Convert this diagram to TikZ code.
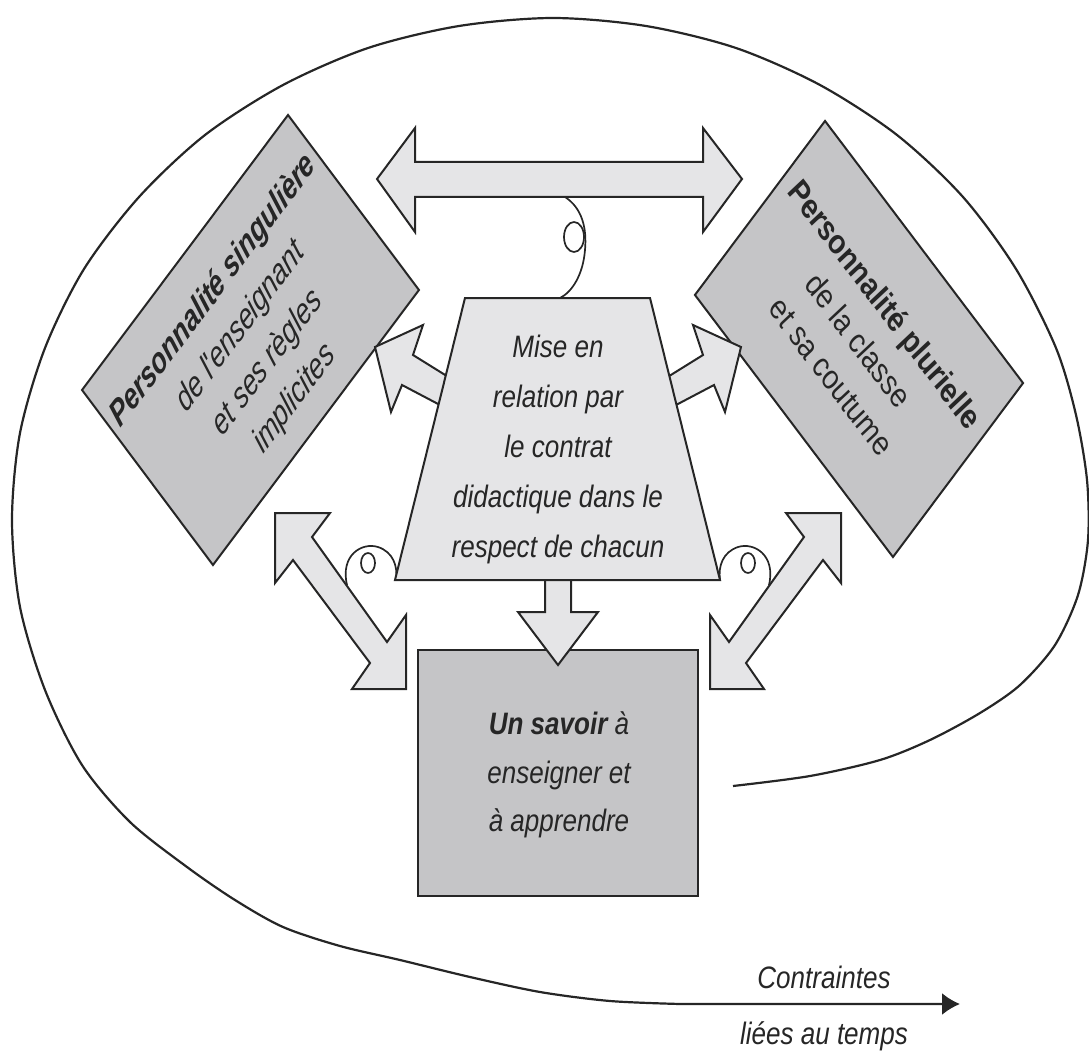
\documentclass[tikz,border=0pt]{standalone}
\usepackage{fontspec}
\setmainfont{Liberation Sans}
\newfontfamily\condfont[FakeStretch=0.84]{Liberation Sans}
\newfontfamily\boxfont[FakeStretch=0.9]{Liberation Sans}
\usetikzlibrary{arrows.meta}
\definecolor{ink}{RGB}{38,38,38}
\definecolor{boxgray}{RGB}{197,197,199}
\definecolor{pale}{RGB}{229,229,231}

\begin{document}
\begin{tikzpicture}[x=1pt,y=1pt,
  outline/.style={draw=ink, line width=2pt, line join=miter},
  darkbox/.style={outline, fill=boxgray},
  palebox/.style={outline, fill=pale},
  curl/.style={draw=ink, line width=1.7pt},
  midtext/.style={font=\condfont\itshape\fontsize{31}{50}\selectfont, text=ink, align=center, inner sep=0pt},
  sheartext/.style={font=\boxfont\itshape\fontsize{33}{45}\selectfont, text=ink, inner sep=0pt,
    text height=23.6pt, text depth=0pt, transform shape},
]
\useasboundingbox (0,0) rectangle (1089,-1059);

% the time spiral that ends in the arrow
\coordinate (spiralstart) at (733,-786);
\coordinate (timeend) at (960,-1004);
\draw[ink, line width=2.2pt, -{Latex[length=18pt,width=22pt]}]
  plot[smooth] coordinates {(spiralstart) (810,-776) (880,-760) (930,-740) (980,-713)
    (1020,-685) (1055,-645) (1078,-595) (1088,-540) (1087,-480) (1076,-415) (1056,-348)
    (1016,-269) (963,-197) (897,-135) (820,-85) (736,-48) (646,-26) (553,-18) (459,-26)
    (368,-48) (283,-85) (205,-135) (139,-197) (84,-269) (45,-348) (20,-433) (12,-520)
    (20,-607) (45,-690) (82,-765) (130,-822) (187,-867) (235,-900) (283,-927) (340,-946)
    (400,-960) (470,-977) (540,-992) (610,-1001) (680,-1004)}
  -- (timeend);

% teacher: sheared box
\begin{scope}[cm={0.5995,0.8003,-0.599,0.8005,(250.5,-340)}]
  \node[darkbox, transform shape, inner sep=0pt, minimum width=343.6pt, minimum height=218.6pt] (teacher) at (0,0) {};
  \node[sheartext] (teacherA) at (0,64.5) {\bfseries Personnalité singulière};
  \node[sheartext] (teacherB) at (0,19.5) {de l'enseignant};
  \node[sheartext] (teacherC) at (0,-25.5) {et ses règles};
  \node[sheartext] (teacherD) at (0,-70.5) {implicites};
\end{scope}

% class: sheared box
\begin{scope}[cm={0.603,-0.798,0.599,0.801,(859,-339)}]
  \node[darkbox, transform shape, inner sep=0pt, minimum width=328.4pt, minimum height=217.2pt] (class) at (0,0) {};
  \node[sheartext] (classA) at (0,44) {\bfseries Personnalité plurielle};
  \node[sheartext] (classB) at (0,-1) {de la classe};
  \node[sheartext] (classC) at (0,-46) {et sa coutume};
\end{scope}

% double arrow between teacher and class
\draw[palebox] (377,-179) -- (415,-128) -- (415,-162) -- (703,-162) -- (703,-128) -- (742,-179)
  -- (703,-232) -- (703,-197) -- (415,-197) -- (415,-232) -- cycle;
\coordinate (topcurlA) at (565,-197);
\coordinate (topcurlB) at (560,-298);
\draw[curl] (topcurlA) .. controls (582,-208) and (587,-228) .. (585,-250)
  .. controls (583,-275) and (572,-292) .. (topcurlB);
\draw[curl] (574,-237) ellipse [x radius=10, y radius=15];

% arrows from the contract towards both personalities
\draw[palebox] (375,-347) -- (423,-325) -- (413,-355) -- (487,-401) -- (478,-425) -- (402,-385) -- (391,-412) -- cycle;
\draw[palebox] (741,-347) -- (693,-325) -- (703,-355) -- (629,-401) -- (638,-425) -- (714,-385) -- (725,-412) -- cycle;

% double arrows towards the knowledge
\draw[palebox] (275,-513) -- (330,-513) -- (312,-537) -- (387,-642) -- (406,-615) -- (406,-689)
  -- (352,-689) -- (370,-663) -- (293,-560) -- (275,-583) -- cycle;
\draw[palebox] (841,-513) -- (786,-513) -- (804,-537) -- (729,-642) -- (710,-615) -- (710,-689)
  -- (764,-689) -- (746,-663) -- (823,-560) -- (841,-583) -- cycle;

% small curls
\coordinate (lcurlA) at (347,-585);
\coordinate (lcurlB) at (396,-580);
\draw[curl] (lcurlA) .. controls (340,-555) and (362,-542) .. (378,-547)
  .. controls (393,-552) and (398,-566) .. (lcurlB);
\draw[curl] (368,-563) ellipse [x radius=7, y radius=10];
\coordinate (rcurlA) at (769,-585);
\coordinate (rcurlB) at (720,-580);
\draw[curl] (rcurlA) .. controls (776,-555) and (754,-542) .. (738,-547)
  .. controls (723,-552) and (718,-566) .. (rcurlB);
\draw[curl] (748,-563) ellipse [x radius=7, y radius=10];

% knowledge box
\node[darkbox, inner sep=0pt, minimum width=280pt, minimum height=246pt] (knowledge) at (558,-773) {};
\node[midtext, font=\condfont\itshape\fontsize{31}{48.5}\selectfont] (knowledgetext) at (559,-775)
  {{\bfseries Un savoir} à\\enseigner et\\à apprendre};

% arrow from the contract down to the knowledge
\draw[palebox] (545,-560) -- (545,-612) -- (518,-612) -- (558,-665) -- (598,-612) -- (571,-612) -- (571,-560) -- cycle;

% didactic contract trapezium
\coordinate (trapTL) at (465,-298);
\coordinate (trapTR) at (650,-298);
\coordinate (trapBR) at (720,-580);
\coordinate (trapBL) at (395,-580);
\draw[palebox] (trapTL) -- (trapTR) -- (trapBR) -- (trapBL) -- cycle;
\node[midtext] (contract) at (558,-449)
  {Mise en\\relation par\\le contrat\\didactique dans le\\respect de chacun};

% time labels
\node[midtext, anchor=base] (timeA) at (824,-988) {Contraintes};
\node[midtext, anchor=base] (timeB) at (824,-1044) {liées au temps};
\end{tikzpicture}
\end{document}
